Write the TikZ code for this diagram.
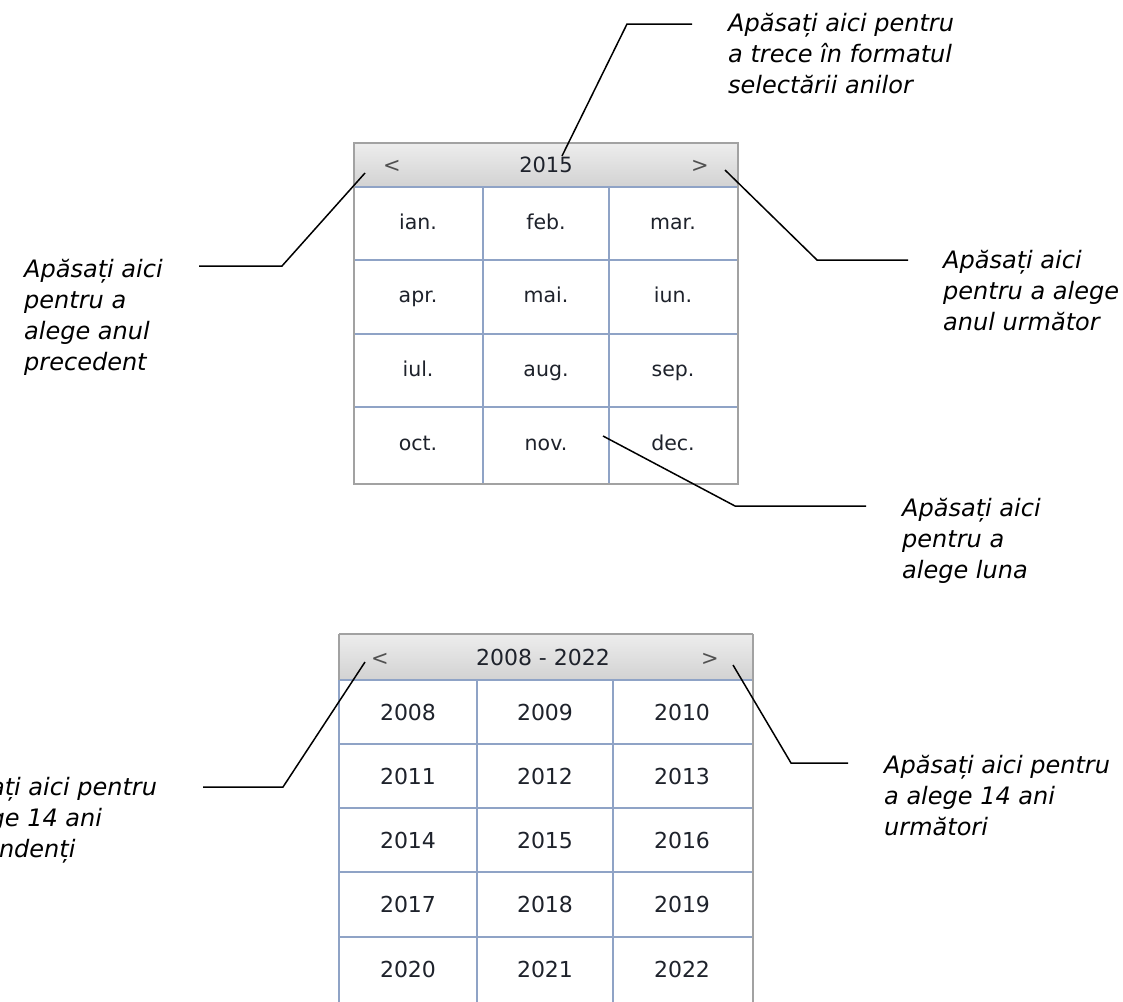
\documentclass[tikz,border=0pt]{standalone}
\usepackage{fontspec}
\setmainfont{DejaVu Sans}
\definecolor{gridc}{HTML}{8FA3C6}
\definecolor{framec}{HTML}{A2A2A2}
\definecolor{txtc}{HTML}{1E222B}
\definecolor{arrc}{HTML}{505050}
\definecolor{hdrtop}{HTML}{EDEDED}
\definecolor{hdrmid}{HTML}{FAFAFA}
\definecolor{hdrbot}{HTML}{D2D2D2}
\begin{document}
\begin{tikzpicture}[x=1pt,y=-1pt,
  ann/.style={anchor=base west, align=left, inner sep=0pt, font=\fontsize{24}{31}\selectfont\itshape, text=black},
  lead/.style={draw=black, line width=1.5pt, line join=miter},
  gridl/.style={draw=gridc, line width=1.4pt},
  framel/.style={draw=framec, line width=2pt},
  month/.style={anchor=base, inner sep=0pt, font=\fontsize{20.5}{24}\selectfont, text=txtc},
  yr/.style={anchor=base, inner sep=0pt, font=\fontsize{22}{26}\selectfont, text=txtc},
  hdrtxt/.style={anchor=base, inner sep=0pt, font=\fontsize{21}{25}\selectfont, text=txtc},
  navtxt/.style={anchor=base, inner sep=0pt, font=\fontsize{21}{25}\selectfont, text=arrc}]
\useasboundingbox (0,0) rectangle (1123,1001);
\clip (0,0) rectangle (1123,1001);
\fill[white] (0,0) rectangle (1123,1001);

% ---------- top calendar (months) ----------
\fill[white] (354,187) rectangle (738,484);
\shade[top color=hdrtop, middle color=hdrmid, bottom color=hdrbot] (354,143) rectangle (738,187);
\foreach \x in {483,609} \draw[gridl] (\x,187) -- (\x,484);
\foreach \y in {187,260,334,407} \draw[gridl] (354,\y) -- (738,\y);
\draw[framel] (354,143) rectangle (738,484);

\node[navtxt] (prevA) at (392,172) {<};
\node[hdrtxt] (yearA) at (546,172.5) {2015};
\node[navtxt] (nextA) at (700,172) {>};

\node[month] (m1)  at (418,229) {ian.};
\node[month] (m2)  at (546,229) {feb.};
\node[month] (m3)  at (673,229) {mar.};
\node[month] (m4)  at (418,302.5) {apr.};
\node[month] (m5)  at (546,302.5) {mai.};
\node[month] (m6)  at (673,302.5) {iun.};
\node[month] (m7)  at (418,376) {iul.};
\node[month] (m8)  at (546,376) {aug.};
\node[month] (m9)  at (673,376) {sep.};
\node[month] (m10) at (418,450.5) {oct.};
\node[month] (m11) at (546,450.5) {nov.};
\node[month] (m12) at (673,450.5) {dec.};

% ---------- bottom calendar (years) ----------
\fill[white] (339,680) rectangle (753,1010);
\shade[top color=hdrtop, middle color=hdrmid, bottom color=hdrbot] (339,634) rectangle (753,680);
\foreach \x in {477,613} \draw[gridl] (\x,680) -- (\x,1010);
\foreach \y in {680,744,808,872,937} \draw[gridl] (339,\y) -- (753,\y);
\draw[gridl] (339,680) -- (339,1010);
\draw[framel] (339,634) -- (753,634);
\draw[framel] (339,634) -- (339,680);
\draw[framel] (753,634) -- (753,1010);

\node[navtxt] (prevB) at (380,665) {<};
\node[hdrtxt, font=\fontsize{22}{26}\selectfont] (rangeB) at (543,665) {2008 - 2022};
\node[navtxt] (nextB) at (710,665) {>};

\node[yr] (y2008) at (408,720) {2008};
\node[yr] (y2009) at (545,720) {2009};
\node[yr] (y2010) at (682,720) {2010};
\node[yr] (y2011) at (408,784) {2011};
\node[yr] (y2012) at (545,784) {2012};
\node[yr] (y2013) at (682,784) {2013};
\node[yr] (y2014) at (408,848) {2014};
\node[yr] (y2015) at (545,848) {2015};
\node[yr] (y2016) at (682,848) {2016};
\node[yr] (y2017) at (408,912.5) {2017};
\node[yr] (y2018) at (545,912.5) {2018};
\node[yr] (y2019) at (682,912.5) {2019};
\node[yr] (y2020) at (408,977) {2020};
\node[yr] (y2021) at (545,977) {2021};
\node[yr] (y2022) at (682,977) {2022};

% ---------- annotations (anchor = baseline of last line) ----------
\node[ann] (annTop) at (728,93) {Apăsați aici pentru\\a trece în formatul\\selectării anilor};
\node[ann] (annPrev) at (24,370) {Apăsați aici\\pentru a\\alege anul\\precedent};
\node[ann] (annNext) at (943,330) {Apăsați aici\\pentru a alege\\anul următor};
\node[ann] (annMonth) at (902,578) {Apăsați aici\\pentru a\\alege luna};
\node[ann] (annPrev14) at (-69,857) {Apăsați aici pentru\\a alege 14 ani\\precendenți};
\node[ann] (annNext14) at (884,835) {Apăsați aici pentru\\a alege 14 ani\\următori};

% ---------- leaders ----------
\coordinate (sTop) at (562,156);   \coordinate (cTop) at (627,24);   \coordinate (eTop) at (692,24);
\coordinate (sPrev) at (365,173);  \coordinate (cPrev) at (282,266); \coordinate (ePrev) at (199,266);
\coordinate (sNext) at (725,170);  \coordinate (cNext) at (817,260); \coordinate (eNext) at (908,260);
\coordinate (sMon) at (603,436);   \coordinate (cMon) at (735,506);  \coordinate (eMon) at (866,506);
\coordinate (sP14) at (365,662);   \coordinate (cP14) at (283,787);  \coordinate (eP14) at (203,787);
\coordinate (sN14) at (733,665);   \coordinate (cN14) at (791,763);  \coordinate (eN14) at (848,763);

\draw[lead] (sTop) -- (cTop) -- (eTop);
\draw[lead] (sPrev) -- (cPrev) -- (ePrev);
\draw[lead] (sNext) -- (cNext) -- (eNext);
\draw[lead] (sMon) -- (cMon) -- (eMon);
\draw[lead] (sP14) -- (cP14) -- (eP14);
\draw[lead] (sN14) -- (cN14) -- (eN14);
\end{tikzpicture}
\end{document}
